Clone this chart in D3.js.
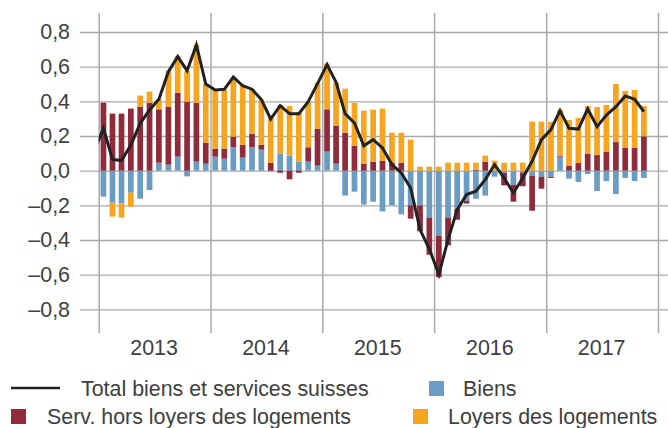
<!DOCTYPE html>
<html>
<head>
<meta charset="utf-8">
<script src="https://cdn.jsdelivr.net/npm/d3@7"></script>
<style>
  html, body { margin: 0; padding: 0; background: #fff; }
  svg { display: block; font-family: "Liberation Sans", Arial, sans-serif; }
</style>
</head>
<body>
<div id="chart"></div>
<script>
// monthly contributions, Jan 2013 .. Nov 2017
const biens = [
  -0.15, -0.185, -0.19, -0.127, -0.162, -0.112, 0.046, 0.035, 0.081, -0.033, 0.052, 0.04,
  0.081, 0.069, 0.135, 0.075, 0.135, 0.121, -0.005, 0.098, 0.087, 0.052, 0.052, 0.029,
  0.11, 0.04, -0.144, -0.121, -0.196, -0.179, -0.235, -0.2, -0.252, -0.2, -0.2, -0.271,
  -0.375, -0.271, -0.219, -0.173, -0.162, -0.144, -0.035, -0.012, -0.081, -0.012, -0.029, -0.035,
  -0.035, 0.081, -0.046, -0.065, -0.019, -0.117, -0.06, -0.135, -0.042, -0.06, -0.042
];
const serv = [
  0.392, 0.329, 0.329, 0.358, 0.369, 0.392, 0.308, 0.334, 0.369, 0.398, 0.34, 0.122,
  0.046, 0.058, 0.061, 0.075, 0.078, 0.029, 0.046, -0.012, -0.05, -0.012, 0.083, 0.213,
  0.244, 0.22, 0.219, 0.144, 0.04, 0.052, 0.058, 0.044, 0.046, -0.077, -0.15, -0.214,
  -0.24, -0.16, -0.064, -0.017, 0.006, 0.052, 0, -0.073, -0.098, -0.078, -0.202, -0.069,
  -0.007, 0.006, 0.027, 0.044, 0.096, 0.09, 0.108, 0.165, 0.131, 0.131, 0.198
];
const loyers = [
  0, -0.08, -0.081, -0.081, 0.064, 0.064, 0.059, 0.208, 0.213, 0.179, 0.335, 0.34,
  0.34, 0.34, 0.342, 0.34, 0.258, 0.26, 0.256, 0.281, 0.286, 0.286, 0.263, 0.266,
  0.263, 0.248, 0.254, 0.248, 0.306, 0.3, 0.3, 0.175, 0.173, 0.179, 0.023, 0.023,
  0.023, 0.046, 0.046, 0.046, 0.04, 0.035, 0.058, 0.046, 0.046, 0.046, 0.283, 0.283,
  0.281, 0.263, 0.265, 0.26, 0.277, 0.277, 0.271, 0.335, 0.329, 0.334, 0.175
];
// total line, Dec 2012 .. Nov 2017
const total = [
  0.11,
  0.244, 0.065, 0.058, 0.148, 0.273, 0.35, 0.412, 0.571, 0.658, 0.577, 0.725, 0.5,
  0.465, 0.469, 0.54, 0.49, 0.47, 0.41, 0.298, 0.375, 0.329, 0.329, 0.398, 0.502,
  0.612, 0.51, 0.329, 0.275, 0.144, 0.179, 0.131, 0.035, -0.013, -0.1, -0.34, -0.452,
  -0.6, -0.398, -0.225, -0.138, -0.119, -0.052, 0.035, -0.042, -0.129, -0.042, 0.054, 0.179,
  0.237, 0.346, 0.244, 0.24, 0.356, 0.254, 0.321, 0.369, 0.431, 0.412, 0.34
];
const yTicks = [-0.8, -0.6, -0.4, -0.2, 0, 0.2, 0.4, 0.6, 0.8];
const years = [2013, 2014, 2015, 2016, 2017];
const seriesNames = {
  total: "Total biens et services suisses",
  biens: "Biens",
  serv: "Serv. hors loyers des logements",
  loyers: "Loyers des logements"
};
const colors = { biens: "#6b9cc3", serv: "#8f2b3b", loyers: "#f6a520", total: "#222" };

const W = 668, H = 428;
const plotLeft = 98.7, plotRight = 658, plotTop = 32, plotBottom = 309.3;
const fontSize = 21.4, textColor = "#404040";

const months = d3.timeMonth.range(new Date(2013, 0, 1), new Date(2017, 11, 1));
const table = months.map((m, i) => ({ date: m, biens: biens[i], serv: serv[i], loyers: loyers[i] }));
const lineDates = [new Date(2012, 11, 1)].concat(months);

const x = d3.scaleTime().domain([new Date(2013, 0, 1), new Date(2018, 0, 1)]).range([plotLeft, plotRight]);
const y = d3.scaleLinear().domain([-0.8, 0.8]).range([plotBottom, plotTop]);
const mid = d => (x(d) + x(d3.timeMonth.offset(d, 1))) / 2;
const barW = 5.7;

const locale = d3.formatLocale({ decimal: ",", thousands: " ", grouping: [3], currency: ["", ""], minus: "\u2013" });
const fmt = locale.format(".1f");

const svg = d3.select("#chart").append("svg").attr("width", W).attr("height", H);

// horizontal grid + y labels
const yAxis = svg.append("g")
  .attr("transform", "translate(80,0)")
  .call(d3.axisLeft(y).tickValues(yTicks).tickSize(-(W - 80)).tickPadding(10).tickFormat(fmt));
yAxis.select(".domain").remove();
yAxis.selectAll(".tick line").attr("stroke", "#aaa").attr("stroke-width", 1.3);
yAxis.selectAll(".tick text").attr("font-size", fontSize).attr("fill", textColor)
  .attr("font-family", "Liberation Sans, Arial, sans-serif");

// vertical year grid
const xAxis = svg.append("g")
  .attr("transform", "translate(0,333)")
  .call(d3.axisBottom(x).ticks(d3.timeYear).tickSize(-(333 - 12.7)).tickFormat(""));
xAxis.select(".domain").remove();
xAxis.selectAll(".tick line").attr("stroke", "#aaa").attr("stroke-width", 1.5);

svg.append("g").selectAll("text").data(years).join("text")
  .attr("x", d => x(new Date(d, 6, 1)))
  .attr("y", 355)
  .attr("text-anchor", "middle")
  .attr("font-size", fontSize).attr("fill", textColor)
  .text(d => d);

// stacked bars
const stack = d3.stack().keys(["biens", "serv", "loyers"]).offset(d3.stackOffsetDiverging);
const layers = stack(table);
svg.append("g").selectAll("g").data(layers).join("g")
  .attr("fill", d => colors[d.key])
  .selectAll("rect").data(d => d).join("rect")
  .attr("x", d => mid(d.data.date) - barW / 2)
  .attr("width", barW)
  .attr("y", d => y(Math.max(d[0], d[1])))
  .attr("height", d => Math.abs(y(d[0]) - y(d[1])));

// total line
svg.append("clipPath").attr("id", "plotclip")
  .append("rect").attr("x", plotLeft).attr("y", 0).attr("width", W - plotLeft).attr("height", H);
svg.append("path")
  .datum(total)
  .attr("clip-path", "url(#plotclip)")
  .attr("fill", "none")
  .attr("stroke", colors.total)
  .attr("stroke-width", 3)
  .attr("stroke-linejoin", "miter")
  .attr("d", d3.line().x((d, i) => mid(lineDates[i])).y(d => y(d)));

// legend
const lg = svg.append("g").attr("font-size", fontSize).attr("fill", textColor);
lg.append("line").attr("x1", 11).attr("x2", 60).attr("y1", 388).attr("y2", 388)
  .attr("stroke", colors.total).attr("stroke-width", 2.5);
lg.append("text").attr("x", 81).attr("y", 395.5).text(seriesNames.total);
lg.append("rect").attr("x", 429).attr("y", 381).attr("width", 15).attr("height", 15).attr("fill", colors.biens);
lg.append("text").attr("x", 463).attr("y", 395.5).text(seriesNames.biens);
lg.append("rect").attr("x", 11).attr("y", 409).attr("width", 15).attr("height", 15).attr("fill", colors.serv);
lg.append("text").attr("x", 47).attr("y", 423.5).text(seriesNames.serv);
lg.append("rect").attr("x", 413).attr("y", 409).attr("width", 15).attr("height", 15).attr("fill", colors.loyers);
lg.append("text").attr("x", 448).attr("y", 423.5).text(seriesNames.loyers);
</script>
</body>
</html>
